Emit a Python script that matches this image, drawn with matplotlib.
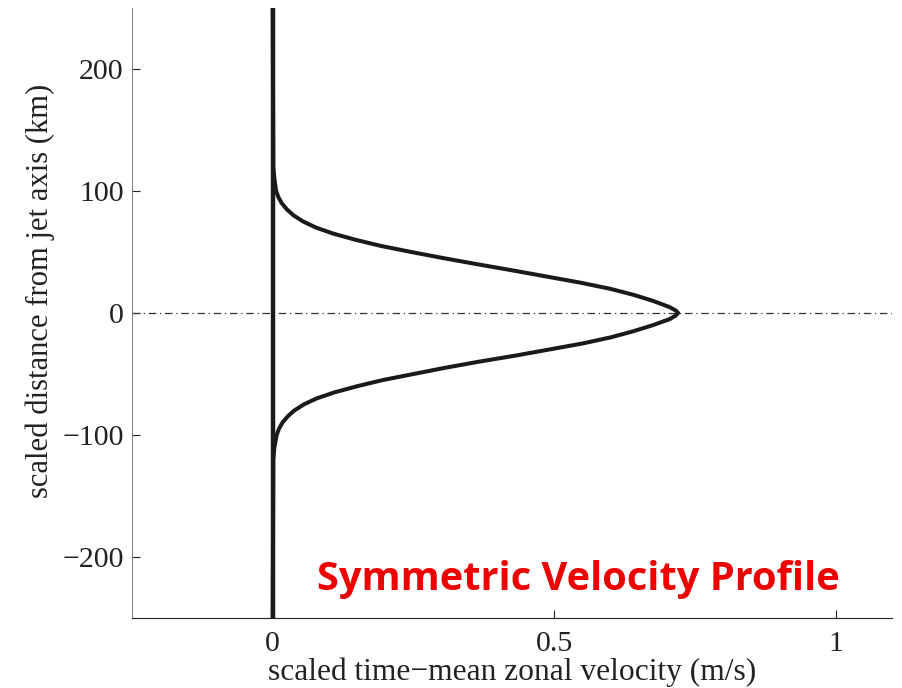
import matplotlib
matplotlib.use("Agg")
import matplotlib.pyplot as plt
import numpy as np

# Data (distance from jet axis in km, velocity in m/s)
distance_km = [250, 120, 110, 100, 95, 90, 85, 80, 75, 70, 65, 60, 55, 50, 45, 40, 35, 30,
               25, 20, 15, 10, 5, 2, 0,
               -2, -5, -10, -15, -20, -25, -30, -35, -40, -45, -50, -55, -60, -65, -70,
               -75, -80, -85, -90, -95, -100, -110, -120, -250]
velocity_ms = [0.0, 0.001, 0.003, 0.006, 0.010, 0.016, 0.025, 0.037, 0.054, 0.077, 0.108, 0.147,
               0.192, 0.246, 0.303, 0.363, 0.425, 0.485, 0.545, 0.598, 0.640, 0.675, 0.704, 0.716, 0.72,
               0.716, 0.705, 0.675, 0.640, 0.600, 0.550, 0.490, 0.430, 0.365, 0.305, 0.250, 0.195,
               0.150, 0.110, 0.078, 0.055, 0.038, 0.026, 0.017, 0.011, 0.007, 0.003, 0.001, 0.0]

x_ticks = [0, 0.5, 1]
x_tick_labels = ["0", "0.5", "1"]
y_ticks = [-200, -100, 0, 100, 200]
y_tick_labels = ["\u2212200", "\u2212100", "0", "100", "200"]

plt.rcParams['font.family'] = ['Liberation Serif', 'DejaVu Serif']

fig = plt.figure(figsize=(9.02, 6.88), dpi=100)
ax = fig.add_axes([0.1463, 0.1017, 0.989 - 0.1463, 0.9884 - 0.1017])

d = np.array(distance_km, dtype=float)
v = np.array(velocity_ms, dtype=float)
order = np.argsort(d)
ax.plot(v[order], d[order], color='#1a1a1a', lw=2.9, solid_joinstyle='round',
        solid_capstyle='round', zorder=3)
ax.axvline(0, color='#1a1a1a', lw=3.2, zorder=3)
ax.axhline(0, color='#333333', lw=0.9, linestyle=(0, (6, 3, 1, 3)), zorder=2)

ax.set_xlim(-0.25, 1.1)
ax.set_ylim(-250, 250)
ax.set_xticks(x_ticks)
ax.set_xticklabels(x_tick_labels)
ax.set_yticks(y_ticks)
ax.set_yticklabels(y_tick_labels)

ax.spines['top'].set_visible(False)
ax.spines['right'].set_visible(False)
ax.spines['left'].set_color('#888888')
ax.spines['bottom'].set_color('#222222')
ax.tick_params(direction='in', length=6, width=0.8, labelsize=21.5, colors='#222222')
ax.tick_params(axis='x', pad=9)
ax.tick_params(axis='y', pad=6)

ax.set_xlabel("scaled time\u2212mean zonal velocity (m/s)", fontsize=22.7, color='#222222', labelpad=1)
ax.set_ylabel("scaled distance from jet axis (km)", fontsize=22.1, color='#222222',
              va='center', ha='center')
ax.yaxis.set_label_coords(-0.121, 0.536)

ax.text(0.543, -227, "Symmetric Velocity Profile", color='#ee0000', fontsize=28.6,
        fontweight='bold', family=['Open Sans', 'DejaVu Sans'], ha='center', va='baseline')

fig.savefig("out.png", dpi=100)
